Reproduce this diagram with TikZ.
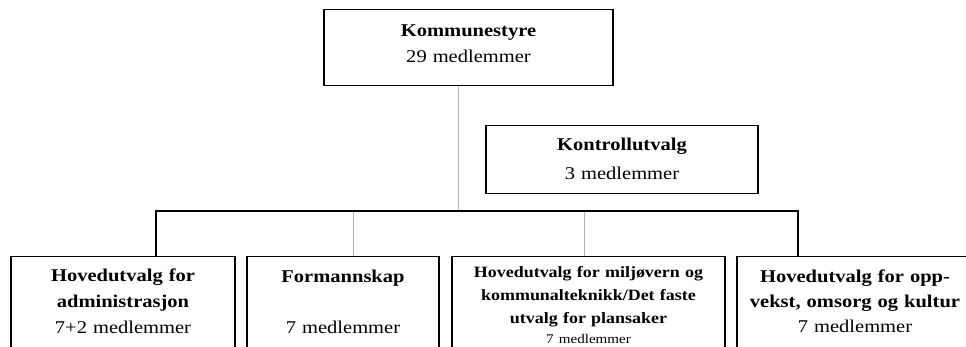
\documentclass[tikz,border=0pt]{standalone}
\usepackage{fontspec}
\setmainfont{Liberation Serif}[FakeStretch=1.14]

\tikzset{
  orgbox/.style={draw, line width=1.2pt, anchor=north, align=center, inner sep=0pt},
  hovedlinje/.style={line width=1.8pt},
  hjelpelinje/.style={line width=0.8pt, black!30}
}

\begin{document}
\begin{tikzpicture}[x=1pt,y=-1pt]
    \useasboundingbox (0,0) rectangle (966,346);
    \clip (0,0) rectangle (966,346);
    \node[orgbox, text width=289pt, text height=27pt, text depth=49pt, font=\fontsize{18}{26}\selectfont] (styre) at (468.5,9) {\textbf{Kommunestyre}\\29 medlemmer};
    \node[orgbox, text width=272pt, text height=25pt, text depth=43pt, font=\fontsize{18}{29}\selectfont] (kontroll) at (622,125) {\textbf{Kontrollutvalg}\\3 medlemmer};

    \node[orgbox, text width=224pt, text height=25pt, text depth=120pt, font=\fontsize{18}{26}\selectfont] (adm) at (123,256) {\textbf{Hovedutvalg for}\\\textbf{administrasjon}\\7+2 medlemmer};
    \node[orgbox, text width=192pt, text height=26pt, text depth=120pt, font=\fontsize{18}{26}\selectfont] (fsk) at (343,256) {\textbf{Formannskap}\\[25pt]7 medlemmer};
    \node[orgbox, text width=273pt, text height=21pt, text depth=120pt, font=\fontsize{15.75}{23}\selectfont] (miljo) at (588.5,256) {\textbf{Hovedutvalg for miljøvern og}\\\textbf{kommunalteknikk/Det faste}\\\textbf{utvalg for plansaker}\\[-3pt]{\fontsize{13.2}{14}\selectfont 7 medlemmer}};
    \node[orgbox, text width=236pt, text height=26pt, text depth=120pt, font=\fontsize{18}{25}\selectfont] (oppvekst) at (855,256) {\textbf{Hovedutvalg for opp-}\\\textbf{vekst, omsorg og kultur}\\7 medlemmer};

    \coordinate (buss) at (458,211);
    \coordinate (vL) at (156,211);
    \coordinate (vR) at (798,211);
    \coordinate (jF) at (353,211);
    \coordinate (jM) at (584,211);
    \draw[hjelpelinje] (styre.south -| buss) -- (buss);
    \draw[hjelpelinje] (jF) -- (jF |- fsk.north);
    \draw[hjelpelinje] (jM) -- (jM |- miljo.north);
    \draw[hovedlinje] (vL |- adm.north) -- (vL) -- (vR) -- (vR |- oppvekst.north);
\end{tikzpicture}
\end{document}
